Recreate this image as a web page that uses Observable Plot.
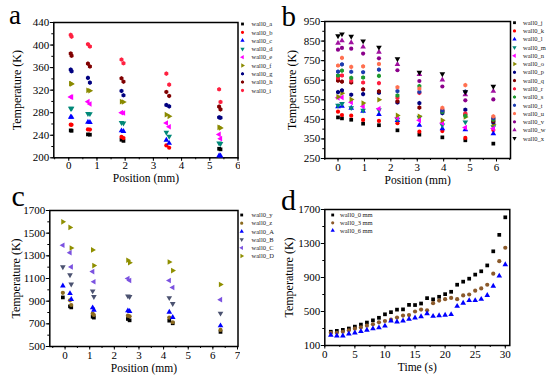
<!DOCTYPE html>
<html><head><meta charset="utf-8">
<script src="https://cdn.jsdelivr.net/npm/d3@7"></script>
<script src="https://cdn.jsdelivr.net/npm/@observablehq/plot@0.6"></script>
<style>
body{margin:0;background:#fff;}
#chart{position:relative;width:550px;height:377px;overflow:hidden;background:#fff;font-family:"Liberation Serif","Times New Roman",serif;}
#chart svg{position:absolute;}
</style></head><body><div id="chart"></div>
<script>
// ---------- DATA ----------
// Panel a
const posA = [0.07, 0.1, 0.68, 0.75, 1.87, 1.94, 3.46, 3.56, 5.33, 5.38];
const seriesA = ["wall0_a","wall0_b","wall0_c","wall0_d","wall0_e","wall0_f","wall0_g","wall0_h","wall0_i"];
const tempA = [
  [248.6, 248, 241.5, 241, 232, 230, null, null, 216, 215],
  [258.7, 258.5, 250.4, 250, 237, 235, 222, 217.8, null, null],
  [272.3, 272, 263.4, 263, 248, 247, 231.4, 226, 204, 203.6],
  [287.7, 287.5, 278.3, 278, 262.3, 261.5, 245, 238, 226, 225],
  [308, 307.5, 299.6, 295.4, 280, 279.5, 261.7, 255.1, 241.5, 234],
  [331.6, 331, 319.7, 319, 299.6, 299, 276.5, 273.5, 254, 253],
  [356.5, 353.5, 341.7, 333.4, 318.6, 310.9, 293.7, 291.3, 271.7, 271],
  [385, 381, 367, 362, 341, 335, 316.8, 309.7, 290.7, 286],
  [418, 415, 401.5, 397.4, 374.3, 367.7, 349.4, 329.8, 321.5, 299]
];
// Panel b
const posB = [0, 0.15, 0.5, 0.95, 1.55, 2.25, 3.08, 3.95, 4.82, 5.88];
const seriesB = ["wall0_j","wall0_k","wall0_l","wall0_m","wall0_n","wall0_o","wall0_p","wall0_q","wall0_r","wall0_s","wall0_t","wall0_u","wall0_v","wall0_w","wall0_x"];
const tempB = [
  [460, 455, 448, 428, 420, 394, 372, 358, 343, 326],
  [489, 472, 469, 447, 442, 430, 387, 390, 355, 395],
  [515, 518, 508, 492, 476, 445, 420, 403, 398, 377],
  [521, 530, 509, 496, 498, 450, 460, 420, 436, 411],
  [560, 562, 537, 516, 504, 458, 445, 431, 408, 403],
  [565, 584, 552, 533, 550, 470, 466, 445, 462, 425],
  [589, 598, 576, 579, 586, 536, 533, 482, 499, 435],
  [648, 643, 638, 603, 593, 542, 510, 492, 474, 441],
  [662, 674, 648, 638, 635, 560, 585, 499, 480, 453],
  [674, 699, 662, 664, 672, 572, 620, 488, 468, 448],
  [694, 731, 693, 691, 704, 594, 590, 495, 592, 457],
  [725, 764, 718, 721, 733, 614, 607, 509, 625, 465],
  [806, 815, 811, 786, 762, 701, 646, 618, 547, 552],
  [840, 852, 842, 820, 794, 731, 680, 652, 577, 594],
  [876, 886, 874, 850, 818, 759, 690, 682, 590, 618]
];
// Panel c
const posC = [-0.09, 0.2, 0.25, 1.12, 1.17, 2.55, 2.62, 4.23, 4.37, 6.31];
const seriesC = ["wall0_y","wall0_z","wall0_A","wall0_B","wall0_C","wall0_D"];
const tempC = [
  [933, 854, 845, 763, 755, 743, 731, 728, 705, 629],
  [974, 907, 866, 790, 778, 772, 766, 755, 714, 646],
  [1036, 968, 916, 842, 822, 816, 810, 804, 758, 684],
  [1202, 1132, 1050, 989, 939, 945, 939, 930, 878, 793],
  [1393, 1328, 1202, 1161, 1071, 1100, 1082, 1082, 1021, 913],
  [1600, 1551, 1369, 1352, 1214, 1261, 1240, 1246, 1170, 1047]
];
// Panel d
const timeD = [1,2,3,4,5,6,7,8,9,10,11,12,13,14,15,16,17,18,19,20,21,22,23,24,25,26,27,28,29,30];
const seriesD = ["wall0_0 mm","wall0_3 mm","wall0_6 mm"];
const tempD = [
  [262, 272, 284, 300, 322, 346, 370, 396, 426, 467, 492, 522, 525, 578, 576, 594, 657, 643, 673, 704, 732, 815, 851, 886, 934, 973, 1042, 1208, 1402, 1608],
  [250, 250, 262, 278, 298, 313, 333, 349, 373, 388, 404, 428, 452, 458, 500, 523, 515, 598, 629, 645, 660, 645, 689, 700, 745, 772, 815, 945, 1092, 1250],
  [222, 214, 214, 238, 250, 266, 282, 298, 309, 330, 389, 378, 390, 410, 426, 440, 475, 445, 452, 458, 465, 562, 600, 630, 630, 645, 690, 799, 918, 1052]
];

// ---------- STYLE ----------
const S3 = Math.sqrt(3);
function tri(tf) {
  return {draw(ctx, size) {
    const y = -Math.sqrt(size / (S3 * 3));
    const p = [[0, 2 * y], [-S3 * y, -y], [S3 * y, -y]].map(([a, b]) => tf(a, b));
    ctx.moveTo(p[0][0], p[0][1]); ctx.lineTo(p[1][0], p[1][1]); ctx.lineTo(p[2][0], p[2][1]); ctx.closePath();
  }};
}
const hexagon = {draw(ctx, size) {
  const rr = Math.sqrt(size / (3 * S3 / 2));
  for (let i = 0; i < 6; i++) {
    const a = i * Math.PI / 3 + Math.PI / 6;
    const x = rr * Math.cos(a), y = rr * Math.sin(a);
    if (i === 0) ctx.moveTo(x, y); else ctx.lineTo(x, y);
  }
  ctx.closePath();
}};
const SY = {
  square: d3.symbolSquare, circle: d3.symbolCircle, hex: hexagon,
  up: tri((x, y) => [x, y]), down: tri((x, y) => [x, -y]),
  left: tri((x, y) => [y, x]), right: tri((x, y) => [-y, x])
};
const colA = ["#000000","#ff0000","#0000ff","#008878","#ff00ff","#8a8a00","#000080","#800000","#ff2040"];
const symA = ["square","circle","up","down","left","right","hex","hex","hex"];
const colB = ["#000000","#ff0000","#0000ff","#008878","#ff00ff","#8a8a00","#000080","#800000","#ff1f3f","#1f9a2f","#1c3cb0","#ff7050","#8b008b","#a010a0","#000000"];
const symB = ["square","circle","up","down","left","right","hex","hex","hex","hex","hex","hex","circle","up","down"];
const colC = ["#000000","#8b6a1f","#0000ff","#4b5270","#7b52e0","#8f8f00"];
const symC = ["square","circle","up","down","left","right"];
const colD = ["#000000","#8b5a2b","#0000ff"];
const symD = ["square","circle","up"];

const FONT = '"Liberation Serif","Times New Roman",serif';

function dots(pos, temps, cols, syms) {
  return temps.map((row, i) => Plot.dot(
    pos.map((x, j) => ({x, y: row[j]})).filter(d => d.y != null),
    {x: "x", y: "y", fill: cols[i], stroke: "none", symbol: SY[syms[i]], r: 2.1}
  ));
}
function frameAxes(o) {
  return [
    Plot.axisX({ticks: o.xm, tickSize: 2, label: null, tickFormat: () => ""}),
    Plot.axisY({ticks: o.ym, tickSize: 2, label: null, tickFormat: () => ""}),
    Plot.axisX({ticks: o.xt, tickSize: 3.5, tickPadding: o.xpad, label: null, tickFormat: d3.format("d"), fontSize: 11}),
    Plot.axisY({ticks: o.yt, tickSize: 3.5, tickPadding: 1, label: null, tickFormat: d3.format("d"), fontSize: 11}),
    Plot.frame({stroke: "black", strokeWidth: 1.5}),
    Plot.text([o.xlabel], {text: d => d, frameAnchor: "bottom", lineAnchor: "middle", textAnchor: "middle", dy: o.xdy, fontSize: 11.5}),
    Plot.text([o.ylabel], {text: d => d, frameAnchor: "left", lineAnchor: "middle", textAnchor: "middle", rotate: -90, dx: o.ydx, fontSize: 12})
  ];
}
function range(a, b, s) { const r = []; for (let v = a; v <= b + 1e-9; v += s) r.push(+v.toFixed(6)); return r; }

const chart = document.getElementById("chart");
function place(svg, left, top) {
  svg.style.left = left + "px"; svg.style.top = top + "px";
  chart.appendChild(svg);
}

// Panel a
place(Plot.plot({
  width: 240, height: 186,
  marginLeft: 53.3, marginRight: 2.5, marginTop: 22, marginBottom: 28.7,
  style: {fontFamily: FONT, fontSize: "11px", color: "black", background: "transparent"},
  x: {domain: [-0.53, 6.0]}, y: {domain: [200, 440]},
  marks: [
    ...frameAxes({xt: range(0, 6, 1), xm: range(-0.5, 6, 0.5), yt: range(200, 440, 40), ym: range(200, 440, 20),
      xlabel: "Position (mm)", ylabel: "Temperature (K)", xpad: 0, xdy: 20.8, ydx: -36.6}),
    ...dots(posA, tempA, colA, symA)
  ]
}), 0, 0);

// Panel b
place(Plot.plot({
  width: 245, height: 186,
  marginLeft: 54.3, marginRight: 5, marginTop: 21, marginBottom: 28,
  style: {fontFamily: FONT, fontSize: "11px", color: "black", background: "transparent"},
  x: {domain: [-0.5, 6.53]}, y: {domain: [250, 950]},
  marks: [
    ...frameAxes({xt: range(0, 6, 1), xm: range(-0.5, 6.5, 0.5), yt: range(250, 950, 100), ym: range(250, 950, 50),
      xlabel: "Position (mm)", ylabel: "Temperature (K)", xpad: 1, xdy: 22, ydx: -33}),
    ...dots(posB, tempB, colB, symB)
  ]
}), 270, 0);

// Panel c
place(Plot.plot({
  width: 240, height: 192,
  marginLeft: 49.3, marginRight: 2.5, marginTop: 25, marginBottom: 31,
  style: {fontFamily: FONT, fontSize: "11px", color: "black", background: "transparent"},
  x: {domain: [-0.62, 7.02]}, y: {domain: [500, 1700]},
  marks: [
    ...frameAxes({xt: range(0, 7, 1), xm: range(-0.5, 7, 0.5), yt: range(500, 1700, 200), ym: range(500, 1700, 100),
      xlabel: "Position (mm)", ylabel: "Temperature (K)", xpad: 1, xdy: 21.5, ydx: -33.3}),
    ...dots(posC, tempC, colC, symC)
  ]
}), 0, 185);

// Panel d
place(Plot.plot({
  width: 245, height: 192,
  marginLeft: 54.3, marginRight: 5.7, marginTop: 24, marginBottom: 32,
  style: {fontFamily: FONT, fontSize: "11px", color: "black", background: "transparent"},
  x: {domain: [0, 30.75]}, y: {domain: [100, 1700]},
  marks: [
    ...frameAxes({xt: range(0, 30, 5), xm: range(0, 30, 2.5), yt: range(100, 1700, 400), ym: range(100, 1700, 200),
      xlabel: "Time (s)", ylabel: "Temperature (K)", xpad: 1.5, xdy: 21.8, ydx: -36}),
    ...dots(timeD, tempD, colD, symD)
  ]
}), 270, 185);

// ---------- Overlay: panel letters + legends ----------
const ov = d3.select(chart).append("svg")
  .attr("width", 550).attr("height", 377)
  .style("left", "0px").style("top", "0px")
  .style("font-family", FONT).style("pointer-events", "none");

[["a", 9, 24, 27], ["b", 281.5, 26, 29], ["c", 11.5, 205.5, 30], ["d", 281, 210, 30]].forEach(([t, x, y, s]) =>
  ov.append("text").attr("x", x).attr("y", y).attr("font-size", s).attr("fill", "black").text(t));

function legend(names, cols, syms, mx, tx, y0, dy) {
  names.forEach((n, i) => {
    const y = y0 + i * dy;
    ov.append("path").attr("transform", `translate(${mx},${y})`)
      .attr("d", d3.symbol(SY[syms[i]], 8)()).attr("fill", cols[i]);
    ov.append("text").attr("x", tx).attr("y", y + 2.2).attr("font-size", 6.5).attr("fill", "#222").text(n);
  });
}
legend(seriesA, colA, symA, 242.5, 251.5, 24, 8.3);
legend(seriesB, colB, symB, 514.5, 523, 22.7, 8.26);
legend(seriesC, colC, symC, 241.7, 251.5, 215, 8.2);
legend(seriesD, colD, symD, 332.7, 340, 215, 7.8);
</script></body></html>
